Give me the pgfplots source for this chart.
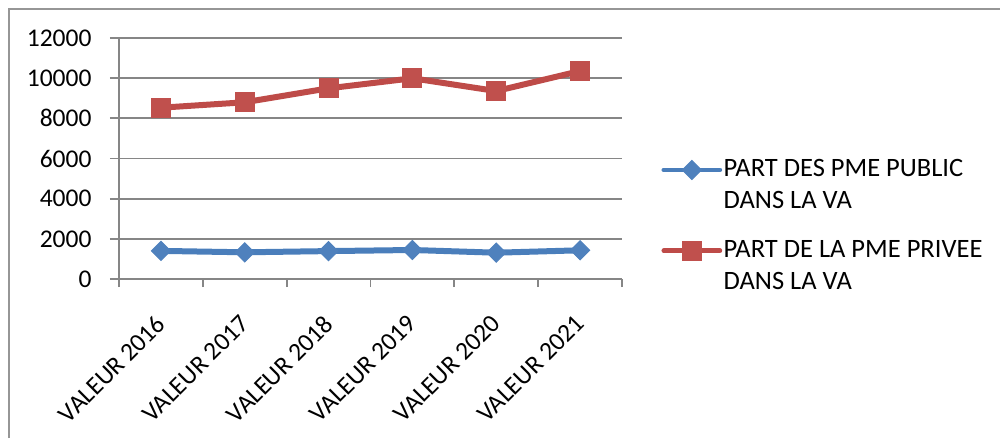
\documentclass[border=0pt]{standalone}
\usepackage{fontspec}
\setmainfont{Carlito}
\usepackage{pgfplots}
\pgfplotsset{compat=1.18}

\definecolor{pubblue}{RGB}{74,126,187}
\definecolor{pubbluefill}{RGB}{79,129,189}
\definecolor{privred}{RGB}{190,75,72}
\definecolor{privredfill}{RGB}{192,80,77}
\definecolor{gridgray}{RGB}{134,134,134}
\definecolor{framegray}{RGB}{150,150,150}

% two-line legend text, baseline on the first line
\newcommand{\legtext}[2]{\vtop{\baselineskip=12.8pt\hbox{#1}\hbox{#2}}}

\begin{document}
\begin{tikzpicture}
\useasboundingbox (-47.6pt,-63.6pt) rectangle (352.4pt,111.6pt);
% chart area frame
\draw[framegray, line width=0.5pt] (-44pt,-63.6pt) -- (-44pt,108pt) -- (352.4pt,108pt);
\begin{axis}[
  at={(0,0)}, anchor=south west,
  scale only axis,
  width=201.2pt, height=96.4pt,
  xmin=-0.5, xmax=5.5,
  ymin=0, ymax=12000,
  ytick={0,2000,...,12000},
  scaled y ticks=false,
  xtick={0,...,5},
  xticklabels={VALEUR 2016,VALEUR 2017,VALEUR 2018,VALEUR 2019,VALEUR 2020,VALEUR 2021},
  minor xtick={-0.5,0.5,...,5.5},
  axis x line*=bottom, axis y line*=left,
  axis line style={gridgray, line width=0.7pt},
  tick align=outside,
  major tick length=3.6pt,
  minor tick length=3.2pt,
  major x tick style={draw=none},
  minor x tick style={gridgray, line width=0.7pt},
  major y tick style={gridgray, line width=0.7pt},
  ymajorgrids,
  major grid style={gridgray, line width=0.7pt},
  /pgf/number format/assume math mode=true,
  /pgf/number format/1000 sep={},
  ticklabel style={font=\fontsize{10.2}{12}\selectfont},
  yticklabel style={anchor=east, inner sep=0pt, xshift=-7.2pt},
  xticklabel style={anchor=north east, inner sep=0pt, xshift=-2.4pt, yshift=-10pt, rotate=45},
  legend style={at={(1.0775,0.498)}, anchor=north west, draw=none, fill=none,
    inner sep=0pt, row sep=24pt, column sep=0.6pt,
    font=\fontsize{10.6}{12.8}\selectfont,
    nodes={inner sep=0pt}},
  legend cell align=left,
  legend image code/.code={
    \draw[mark repeat=2, mark phase=2, line cap=round, line width=1.9pt]
      plot coordinates {(0pt,0pt) (11.2pt,0pt) (22.4pt,0pt)};
  },
]
\addplot[pubblue, line width=2.4pt, mark=square*,
  mark options={solid, rotate=45, fill=pubbluefill, draw=pubbluefill, line width=0.4pt},
  mark size=2.7pt]
  coordinates {(0,1400) (1,1330) (2,1390) (3,1445) (4,1310) (5,1430)};
\addlegendentry{\legtext{PART DES PME PUBLIC}{DANS LA VA}}

\addplot[privred, line width=2.4pt, mark=square*,
  mark options={solid, fill=privredfill, draw=privredfill, line width=0.4pt},
  mark size=3.8pt]
  coordinates {(0,8530) (1,8800) (2,9495) (3,9995) (4,9360) (5,10355)};
\addlegendentry{\legtext{PART DE LA PME PRIVEE}{DANS LA VA}}
\end{axis}
\end{tikzpicture}
\end{document}
